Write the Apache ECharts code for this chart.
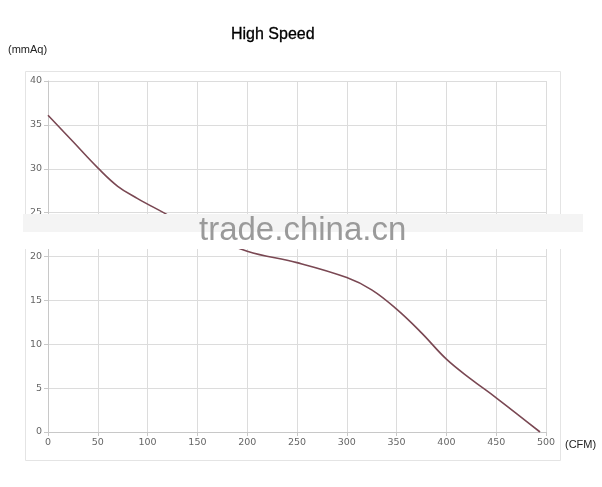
<!DOCTYPE html>
<html>
<head>
<meta charset="utf-8">
<script src="https://cdn.jsdelivr.net/npm/echarts@6/dist/echarts.min.js"></script>
<style>
  html, body { margin: 0; padding: 0; background: #fff; }
  #main { width: 602px; height: 487px; }
</style>
</head>
<body>
<div id="main"></div>
<script>
// airflow (CFM) vs static pressure (mmAq)
var flow = [0, 25, 50, 70, 90, 116, 150, 200, 250, 300, 325, 350, 375, 400, 425, 450, 494];
var pressure = [36.1, 33.1, 30.1, 28.0, 26.6, 25.0, 22.9, 20.6, 19.3, 17.6, 16.2, 14.0, 11.3, 8.3, 6.0, 3.9, 0];

var xTicks = [0, 50, 100, 150, 200, 250, 300, 350, 400, 450, 500];
var yTicks = [0, 5, 10, 15, 20, 25, 30, 35, 40];

var points = [];
for (var i = 0; i < flow.length; i++) {
  points.push([flow[i], pressure[i]]);
}

var myChart = echarts.init(document.getElementById('main'));
var option = {
  backgroundColor: '#fff',
  animation: false,
  title: {
    text: 'High Speed',
    left: 226,
    top: 22,
    padding: 5,
    textStyle: { fontFamily: 'Liberation Sans', fontSize: 16, fontWeight: 'normal', color: '#000', textBorderColor: '#000', textBorderWidth: 0.3 }
  },
  grid: { left: 48, right: 56, top: 81, bottom: 55 },
  xAxis: {
    type: 'value',
    min: xTicks[0],
    max: xTicks[xTicks.length - 1],
    interval: 50,
    axisLine: { show: true, lineStyle: { color: '#c8c8c8', width: 1 } },
    axisTick: { show: true, length: 4, lineStyle: { color: '#c8c8c8' } },
    axisLabel: { color: '#666', fontSize: 9.5, fontFamily: 'DejaVu Sans', margin: 6 },
    splitLine: { show: true, lineStyle: { color: '#dcdcdc', width: 1 } }
  },
  yAxis: {
    type: 'value',
    min: yTicks[0],
    max: yTicks[yTicks.length - 1],
    interval: 5,
    axisLine: { show: true, lineStyle: { color: '#c8c8c8', width: 1 } },
    axisTick: { show: true, length: 4, lineStyle: { color: '#c8c8c8' } },
    axisLabel: { color: '#666', fontSize: 9.5, fontFamily: 'DejaVu Sans', margin: 6 },
    splitLine: { show: true, lineStyle: { color: '#dcdcdc', width: 1 } }
  },
  series: [
    {
      name: 'High Speed',
      type: 'line',
      data: points,
      smooth: 0.4,
      showSymbol: false,
      z: 3,
      lineStyle: { color: '#7a4853', width: 1.6 }
    }
  ],
  graphic: [
    {
      type: 'rect',
      left: 23, top: 69,
      shape: { width: 535, height: 389 },
      style: { fill: 'none', stroke: '#e4e4e4', lineWidth: 1 },
      z: 1
    },
    {
      type: 'text',
      left: 8, top: 44,
      style: { text: '(mmAq)', fill: '#222', fontSize: 11, fontFamily: 'Liberation Sans' }
    },
    {
      type: 'text',
      left: 565, top: 439,
      style: { text: '(CFM)', fill: '#222', fontSize: 11, fontFamily: 'Liberation Sans' }
    },
    // watermark band
    {
      type: 'rect',
      left: 23, top: 214,
      shape: { width: 560, height: 18 },
      style: { fill: '#f4f4f4' },
      z: 100
    },
    {
      type: 'rect',
      left: 23, top: 232,
      shape: { width: 560, height: 17 },
      style: { fill: '#ffffff' },
      z: 100
    },
    {
      type: 'text',
      left: 199, top: 214,
      style: { text: 'trade.china.cn', fill: '#9a9a9a', fontSize: 33, fontFamily: 'Liberation Sans' },
      z: 101
    }
  ]
};
myChart.setOption(option);
</script>
</body>
</html>
